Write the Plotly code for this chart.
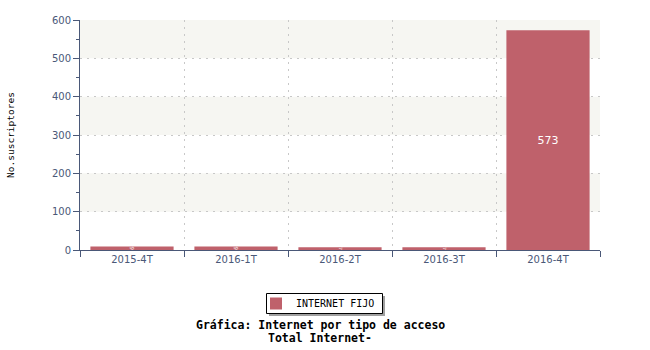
import plotly.graph_objects as go

categories = ["2015-4T", "2016-1T", "2016-2T", "2016-3T", "2016-4T"]
internet_fijo = [9, 9, 7, 7, 573]
series_name = "INTERNET FIJO"
y_ticks = [0, 100, 200, 300, 400, 500, 600]
band_ranges = [(100, 200), (300, 400), (500, 600)]

BAR = "#bf616b"
AXIS = "#4a5878"
FONT = "DejaVu Sans Mono"


def px_x(p):
    return (p - 80) / 520


def px_y(p):
    return (250 - p) / 230


fig = go.Figure()
fig.add_trace(go.Bar(
    x=categories, y=internet_fijo, name=series_name,
    marker=dict(color=BAR, line=dict(width=0)),
    width=0.8,
    text=[str(v) for v in internet_fijo],
    textposition="inside", insidetextanchor="middle",
    textfont=dict(family="DejaVu Sans", size=11, color="white"),
    showlegend=True,
))

shapes = []
for lo, hi in band_ranges:
    shapes.append(dict(type="rect", xref="paper", yref="y", x0=0, x1=1, y0=lo, y1=hi,
                       fillcolor="#f6f6f2", line=dict(width=0), layer="below"))
# legend shadow and frame
shapes.append(dict(type="rect", xref="paper", yref="paper",
                   x0=px_x(269), x1=px_x(385), y0=px_y(316), y1=px_y(296),
                   fillcolor="#a0a0a0", line=dict(width=0), layer="below"))
shapes.append(dict(type="rect", xref="paper", yref="paper",
                   x0=px_x(266.5), x1=px_x(382.5), y0=px_y(313.5), y1=px_y(293.5),
                   fillcolor="white", line=dict(width=1, color="black"), layer="below"))

fig.update_layout(
    width=650, height=350,
    margin=dict(l=80, r=50, t=20, b=100),
    paper_bgcolor="white", plot_bgcolor="white",
    font=dict(family=FONT, size=11, color=AXIS),
    bargap=0.2,
    shapes=shapes,
    xaxis=dict(
        type="category", tickson="boundaries", ticks="outside", ticklen=6,
        tickcolor=AXIS, showline=True, linecolor=AXIS, linewidth=1,
        showgrid=True, gridcolor="#c8c8c8", griddash="2px,5px", gridwidth=1,
        tickfont=dict(family="DejaVu Sans", size=10, color=AXIS),
        range=[-0.5, 4.5], mirror=False, automargin=False,
    ),
    yaxis=dict(
        range=[0, 600], tickvals=y_ticks, ticks="outside", ticklen=6,
        tickcolor=AXIS, showline=True, linecolor=AXIS, linewidth=1,
        showgrid=True, gridcolor="#c8c8c8", griddash="2px,5px", gridwidth=1,
        zeroline=False, automargin=False,
        tickfont=dict(family="DejaVu Sans", size=10, color=AXIS),
        minor=dict(dtick=50, ticks="outside", ticklen=3, tickcolor=AXIS, showgrid=False),
        title=dict(text="No.suscriptores", font=dict(family=FONT, size=9.5, color="black"), standoff=35),
    ),
    legend=dict(
        orientation="h", x=px_x(256), xanchor="left",
        y=px_y(289), yanchor="top",
        bgcolor="rgba(0,0,0,0)", borderwidth=0,
        font=dict(family=FONT, size=10, color="black"),
        itemwidth=30, tracegroupgap=0,
    ),
    annotations=[
        dict(text="<b>Gráfica: Internet por tipo de acceso</b>", xref="paper", yref="paper",
             x=px_x(320), y=px_y(325), xanchor="center", yanchor="middle",
             showarrow=False, font=dict(family=FONT, size=11.5, color="black")),
        dict(text="<b>Total Internet-</b>", xref="paper", yref="paper",
             x=px_x(320), y=px_y(338), xanchor="center", yanchor="middle",
             showarrow=False, font=dict(family=FONT, size=11.5, color="black")),
    ],
)

fig.write_html("out.html")
